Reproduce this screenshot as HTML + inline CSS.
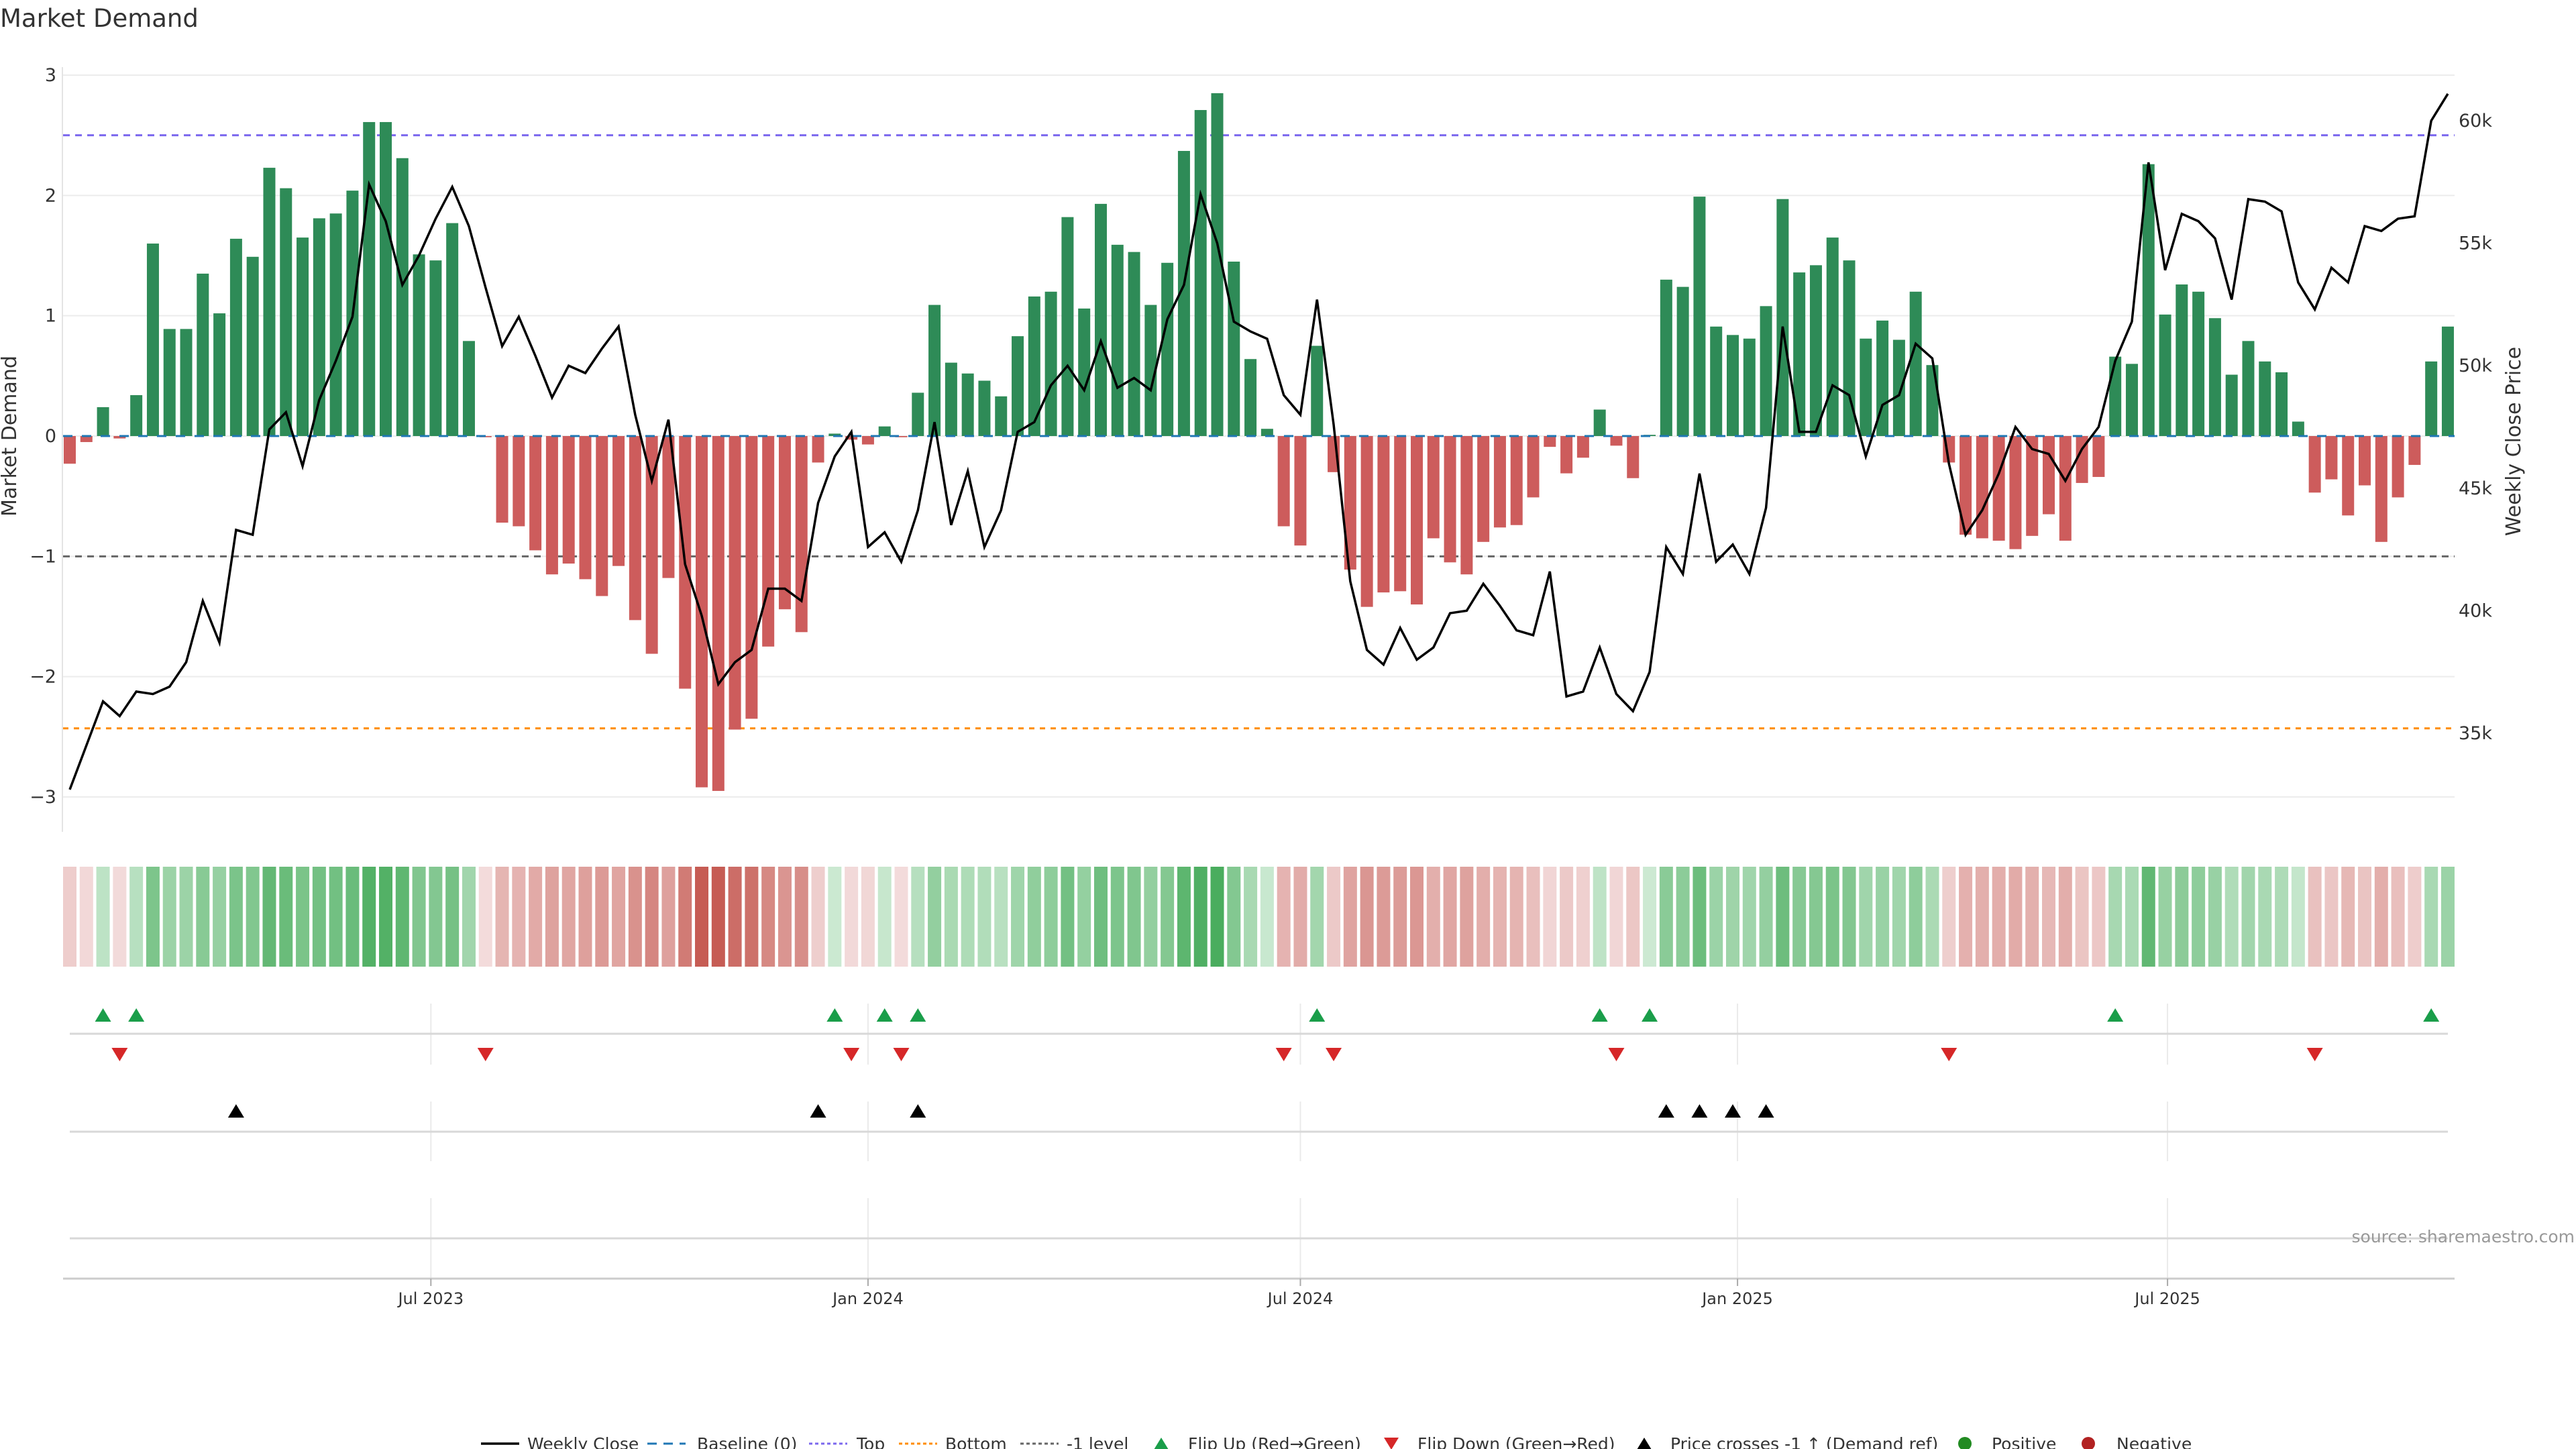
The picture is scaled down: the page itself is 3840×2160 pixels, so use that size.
<!DOCTYPE html>
<html><head><meta charset="utf-8"><style>
html,body{margin:0;padding:0;background:#fff;}
svg{display:block;font-family:"DejaVu Sans","Liberation Sans",sans-serif;}
</style></head><body>
<svg id="chart" width="3840" height="2160" viewBox="0 0 3840 2160" xmlns="http://www.w3.org/2000/svg">
<text x="0" y="40" font-size="37" fill="#333">Market Demand</text>
<g id="grid"></g><g id="refs"></g><g id="bars"></g><g id="line"></g><g id="heat"></g><g id="rows"></g><g id="axes"></g><g id="legend"></g>
<text x="3838" y="1852" font-size="25" fill="#999" text-anchor="end">source: sharemaestro.com</text>
</svg>
<script>
const demand=[-0.23,-0.05,0.24,-0.02,0.34,1.60,0.89,0.89,1.35,1.02,1.64,1.49,2.23,2.06,1.65,1.81,1.85,2.04,2.61,2.61,2.31,1.51,1.46,1.77,0.79,-0.01,-0.72,-0.75,-0.95,-1.15,-1.06,-1.19,-1.33,-1.08,-1.53,-1.81,-1.18,-2.10,-2.92,-2.95,-2.44,-2.35,-1.75,-1.44,-1.63,-0.22,0.02,-0.03,-0.07,0.08,-0.01,0.36,1.09,0.61,0.52,0.46,0.33,0.83,1.16,1.20,1.82,1.06,1.93,1.59,1.53,1.09,1.44,2.37,2.71,2.85,1.45,0.64,0.06,-0.75,-0.91,0.75,-0.30,-1.11,-1.42,-1.30,-1.29,-1.40,-0.85,-1.05,-1.15,-0.88,-0.76,-0.74,-0.51,-0.09,-0.31,-0.18,0.22,-0.08,-0.35,0.01,1.30,1.24,1.99,0.91,0.84,0.81,1.08,1.97,1.36,1.42,1.65,1.46,0.81,0.96,0.80,1.20,0.59,-0.22,-0.82,-0.85,-0.87,-0.94,-0.83,-0.65,-0.87,-0.39,-0.34,0.66,0.60,2.26,1.01,1.26,1.20,0.98,0.51,0.79,0.62,0.53,0.12,-0.47,-0.36,-0.66,-0.41,-0.88,-0.51,-0.24,0.62,0.91];
const price=[32.7,34.5,36.3,35.7,36.7,36.6,36.9,37.9,40.4,38.7,43.3,43.1,47.4,48.1,45.9,48.6,50.2,52.0,57.4,55.9,53.3,54.5,56.0,57.3,55.7,53.2,50.8,52.0,50.4,48.7,50.0,49.7,50.7,51.6,48.0,45.3,47.8,41.9,39.8,37.0,37.9,38.4,40.9,40.9,40.4,44.4,46.3,47.3,42.6,43.2,42.0,44.1,47.7,43.5,45.7,42.6,44.1,47.3,47.7,49.2,50.0,49.0,51.0,49.1,49.5,49.0,51.9,53.3,57.0,55.0,51.8,51.4,51.1,48.8,48.0,52.7,47.6,41.2,38.4,37.8,39.3,38.0,38.5,39.9,40.0,41.1,40.2,39.2,39.0,41.6,36.5,36.7,38.5,36.6,35.9,37.5,42.6,41.5,45.6,42.0,42.7,41.5,44.2,51.6,47.3,47.3,49.2,48.8,46.3,48.4,48.8,50.9,50.3,46.0,43.1,44.1,45.6,47.5,46.6,46.4,45.3,46.6,47.5,50.2,51.8,58.3,53.9,56.2,55.9,55.2,52.7,56.8,56.7,56.3,53.4,52.3,54.0,53.4,55.7,55.5,56.0,56.1,60.0,61.1];
const demandTicks=[3,2,1,0,-1,-2,-3];
const demandTickLabels=["3","2","1","0","\u22121","\u22122","\u22123"];
const priceTicks=[35,40,45,50,55,60];
const priceTickLabels=["35k","40k","45k","50k","55k","60k"];
const dateTicks=["2023-07-01","2024-01-01","2024-07-01","2025-01-01","2025-07-01"];
const dateTickLabels=["Jul 2023","Jan 2024","Jul 2024","Jan 2025","Jul 2025"];
const firstWeek="2023-01-30";
const topLevel=2.5, bottomLevel=-2.43, minusLevel=-1;

const NS="http://www.w3.org/2000/svg";
const X0=94, X1=3659;
const WEEK=24.79;
const x0date=new Date(firstWeek+"T00:00:00Z").getTime();
function xDate(s){return 104+(new Date(s+"T00:00:00Z").getTime()-x0date)/(7*864e5)*WEEK;}
function xIdx(i){return 104+i*WEEK;}
function yD(v){return 650-v*179.33;}
function yP(p){return 1093-(p-35)*36.52;}
function pInv(y){return 35+(1093-y)/36.52;}
function mk(tag,attrs,parent){const e=document.createElementNS(NS,tag);for(const k in attrs)e.setAttribute(k,attrs[k]);parent.appendChild(e);return e;}
const G=id=>document.getElementById(id);

// grid
const grid=G('grid');
demandTicks.forEach((t,i)=>{
  const l=mk('line',{x1:X0,x2:X1,y1:yD(t),y2:yD(t),stroke:'#ececec','stroke-width':2},grid);
  
  
  const tx=mk('text',{x:84,y:yD(t)+9,'font-size':27,fill:'#333','text-anchor':'end'},G('axes'));
  tx.textContent=demandTickLabels[i];
  
  
});
priceTicks.forEach((t,i)=>{
  const tx=mk('text',{x:3665,y:yP(t)+9,'font-size':27,fill:'#333'},G('axes'));
  tx.textContent=priceTickLabels[i];
  
  
});
mk('line',{x1:93,x2:93,y1:100,y2:1240,stroke:'#e4e4e4','stroke-width':2},grid);

// reference lines
const refs=G('refs');
[[topLevel,'#7b68ee','10,8','top-line'],[minusLevel,'#666','10,8','minus-one-line'],[bottomLevel,'#ff8c00','8,8','bottom-line']].forEach(r=>{
  const l=mk('line',{x1:X0,x2:X1,y1:yD(r[0]),y2:yD(r[0]),stroke:r[1],'stroke-width':3,'stroke-dasharray':r[2]},refs);
  
  
});

// bars
const bars=G('bars');
demand.forEach((v,i)=>{
  const y=Math.min(yD(v),yD(0)), h=Math.max(Math.abs(yD(v)-yD(0)),1);
  const r=mk('rect',{x:xIdx(i)-9,y:y,width:18,height:h,fill:v>=0?'#2e8b57':'#cd5c5c'},bars);
  
  
});
const bl=mk('line',{x1:X0,x2:X1,y1:yD(0),y2:yD(0),stroke:'#1f77b4','stroke-width':3,'stroke-dasharray':'14,14'},bars);



// price line
const pl=mk('polyline',{points:price.map((p,i)=>xIdx(i)+','+yP(p)).join(' '),fill:'none',stroke:'#000','stroke-width':3.5,'stroke-linejoin':'miter'},G('line'));



// heatmap
function lerp(a,b,t){return a.map((c,k)=>Math.round(c+(b[k]-c)*t));}
demand.forEach((v,i)=>{
  const t=Math.pow(Math.min(Math.abs(v)/2.9,1),0.85);
  const c=v>=0?lerp([205,234,211],[72,172,92],t):lerp([243,220,220],[198,92,84],t);
  const r=mk('rect',{x:xIdx(i)-10,y:1292,width:20,height:149,fill:'rgb('+c.join(',')+')'},G('heat'));
  
  
});

// rows
const rows=G('rows');
dateTicks.forEach(d=>{
  const x=xDate(d);
  [[1496,1587],[1642,1731],[1786,1906]].forEach(s=>mk('line',{x1:x,x2:x,y1:s[0],y2:s[1],stroke:'#eaeaea','stroke-width':2},rows));
});
[1541,1687,1846].forEach(y=>{
  const l=mk('line',{x1:104,x2:3649,y1:y,y2:y,stroke:'#d8d8d8','stroke-width':3},rows);
  
  
});
function tri(x,y,up,fill,name){
  const pts=up?[[x-12,y+10],[x+12,y+10],[x,y-10]]:[[x-12,y-10],[x+12,y-10],[x,y+10]];
  const p=mk('polygon',{points:pts.map(q=>q.join(',')).join(' '),fill:fill},rows);
  
  
}
const thr=pInv(yD(minusLevel));
for(let i=1;i<demand.length;i++){
  if(demand[i]>=0&&demand[i-1]<0) tri(xIdx(i),1513,true,'#1a9e4a','flip-up-marker');
  if(demand[i]<0&&demand[i-1]>=0) tri(xIdx(i),1572,false,'#d62728','flip-down-marker');
  if(price[i]>thr&&price[i-1]<=thr) tri(xIdx(i),1656,true,'#000','price-cross-marker');
}

// x axis
const axes=G('axes');
mk('line',{x1:X0,x2:X1,y1:1906,y2:1906,stroke:'#ccc','stroke-width':3},axes);
dateTicks.forEach((d,i)=>{
  const x=xDate(d);
  mk('line',{x1:x,x2:x,y1:1906,y2:1917,stroke:'#aaa','stroke-width':2},axes);
  const t=mk('text',{x:x,y:1944,'font-size':24,fill:'#333','text-anchor':'middle'},axes);
  t.textContent=dateTickLabels[i];
  
  
});
const yl=mk('text',{x:0,y:0,'font-size':30,fill:'#333','text-anchor':'middle',transform:'translate(24,650) rotate(-90)'},axes);
yl.textContent='Market Demand';


const yr=mk('text',{x:0,y:0,'font-size':30,fill:'#333','text-anchor':'middle',transform:'translate(3757,658) rotate(-90)'},axes);
yr.textContent='Weekly Close Price';



// legend
const lg=G('legend');
const LY=2152;
function ltext(x,s){const t=mk('text',{x:x,y:LY+9,'font-size':25,fill:'#333'},lg);t.textContent=s;}
function lline(x,c,d,w){const l=mk('line',{x1:x,x2:x+57,y1:LY,y2:LY,stroke:c,'stroke-width':w,'stroke-dasharray':d},lg);}
lline(717,'#000','none',3.5);ltext(786,'Weekly Close');
lline(965,'#1f77b4','14,10',3);ltext(1039,'Baseline (0)');
lline(1206,'#7b68ee','5,4',3);ltext(1277,'Top');
lline(1340,'#ff8c00','5,4',3);ltext(1409,'Bottom');
lline(1521,'#666','5,4',3);ltext(1590,'-1 level');
function ltri(x,up,c){const pts=up?[[x-11,LY+9],[x+11,LY+9],[x,LY-9]]:[[x-11,LY-9],[x+11,LY-9],[x,LY+9]];const p=mk('polygon',{points:pts.map(q=>q.join(',')).join(' '),fill:c},lg);}
ltri(1731,true,'#1a9e4a');ltext(1771,'Flip Up (Red\u2192Green)');
ltri(2074,false,'#d62728');ltext(2113,'Flip Down (Green\u2192Red)');
ltri(2451,true,'#000');ltext(2490,'Price crosses -1 \u2191 (Demand ref)');
function ldot(x,c){const e=mk('circle',{cx:x,cy:LY,r:10,fill:c},lg);}
ldot(2929,'#228b22');ltext(2969,'Positive');
ldot(3113,'#b22222');ltext(3155,'Negative');
</script>
</body></html>
